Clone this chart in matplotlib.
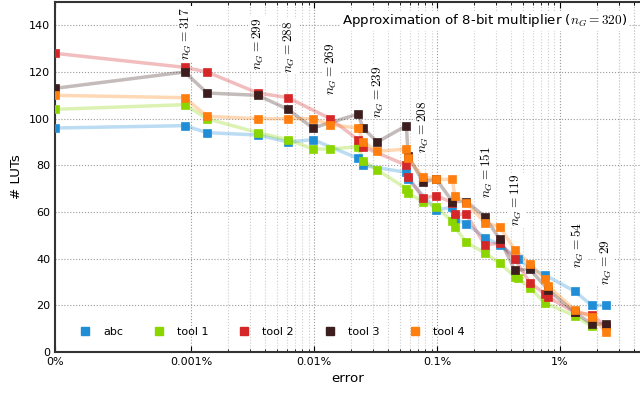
import numpy as np
import matplotlib.pyplot as plt
from matplotlib.lines import Line2D
from matplotlib.ticker import FixedLocator, NullFormatter

plt.rcParams['mathtext.fontset'] = 'cm'

# error in percent, number of LUTs
abc_x = [0, 0.00095, 0.00134, 0.00347, 0.0061, 0.00975, 0.0227, 0.0249, 0.0562, 0.058,
         0.0986, 0.133, 0.139, 0.173, 0.244, 0.324, 0.454, 0.569, 0.753, 1.32, 1.81, 2.37]
abc_y = [96, 97, 94, 93, 90, 91, 83, 80, 77, 74,
         61, 62, 57, 55, 49, 46, 40, 36, 33, 26, 20, 20]

tool1_x = [0, 0.00095, 0.00134, 0.00347, 0.0061, 0.00975, 0.0135, 0.0227, 0.0249, 0.0326,
           0.0562, 0.058, 0.0767, 0.0986, 0.133, 0.139, 0.173, 0.244, 0.324, 0.429, 0.454,
           0.569, 0.753, 1.32, 1.81]
tool1_y = [104, 106, 100, 94, 91, 87, 87, 88, 82, 78,
           70, 68, 64.5, 62, 56, 53.5, 47, 42.5, 38, 32.3, 31.6,
           27.6, 21, 15.5, 11]

tool2_x = [0, 0.00095, 0.00134, 0.00347, 0.0061, 0.0135, 0.0227, 0.0249, 0.0562, 0.058,
           0.0767, 0.0986, 0.133, 0.139, 0.173, 0.244, 0.324, 0.429, 0.569, 0.75, 0.8,
           1.32, 1.81, 2.37]
tool2_y = [128, 122, 120, 111, 109, 100, 91, 88, 80, 75,
           66, 67, 64, 59, 59, 46, 46.6, 39.8, 29.7, 25, 23.5,
           17, 16, 11]

tool3_x = [0, 0.00095, 0.00134, 0.00347, 0.0061, 0.00975, 0.0227, 0.0249, 0.0326, 0.0562,
           0.058, 0.0767, 0.0986, 0.133, 0.173, 0.244, 0.324, 0.429, 0.569, 0.802,
           1.32, 1.81, 2.37]
tool3_y = [113, 120, 111, 110, 104, 96, 102, 96, 90, 97,
           84, 73, 74, 64.5, 64.5, 58, 48.3, 35, 35.5, 26.6,
           17, 12, 12]

tool4_x = [0, 0.00095, 0.00134, 0.00347, 0.0061, 0.00975, 0.0135, 0.0227, 0.0249, 0.0326,
           0.0562, 0.058, 0.0767, 0.0986, 0.133, 0.139, 0.173, 0.244, 0.324, 0.429,
           0.569, 0.753, 0.8, 1.32, 1.81, 2.37]
tool4_y = [110, 109, 101, 100, 100, 100, 97.4, 96, 90, 86,
           87, 83, 75, 74, 74, 67, 64, 55.5, 53.5, 43.8,
           37.8, 31.2, 28.3, 18, 15, 8.7]

names = ['abc', 'tool 1', 'tool 2', 'tool 3', 'tool 4']
colors = ['#1f8ed6', '#8cd600', '#d62728', '#3c1e1e', '#ff7f0e']

ng_vals = [317, 299, 288, 269, 239, 208, 151, 119, 54, 29]
ng_x = [0.000964, 0.00352, 0.0063, 0.0138, 0.0334, 0.0778, 0.252, 0.443, 1.40, 2.37]
ng_y = [125, 121, 119.7, 110.3, 100.4, 85.4, 66, 53.8, 36, 28.8]

fig = plt.figure(figsize=(6.4, 3.95), dpi=100)
ax = fig.add_axes([55/640, 43/395, 585/640, 350/395])

series = [(abc_x, abc_y), (tool1_x, tool1_y), (tool2_x, tool2_y),
          (tool3_x, tool3_y), (tool4_x, tool4_y)]
for (x, y), c in zip(series, colors):
    ax.plot(x, y, '-', color=c, alpha=0.3, lw=2.5, zorder=3)
    ax.plot(x, y, 's', color=c, ms=5.5, mec=c, mew=0.5, zorder=4)

ax.set_xscale('symlog', linthresh=0.001, linscale=1.0)
ax.set_xlim(0, 4.48)
ax.set_ylim(0, 150)

ax.set_xticks([0, 0.001, 0.01, 0.1, 1])
ax.set_xticklabels(['0%', '0.001%', '0.01%', '0.1%', '1%'])
minors = [m * 10.0**k for k in range(-3, 1) for m in range(2, 10)] + [2, 3, 4]
ax.xaxis.set_minor_locator(FixedLocator(minors))
ax.xaxis.set_minor_formatter(NullFormatter())
ax.set_yticks(np.arange(0, 141, 20))

ax.grid(True, which='major', axis='both', ls=':', color='#999999', lw=0.8)
ax.grid(True, which='minor', axis='x', ls=':', color='#cccccc', lw=0.8)
ax.set_axisbelow(True)

ax.tick_params(axis='x', which='both', direction='in', top=True, labelsize=8)
ax.tick_params(axis='x', which='major', length=4)
ax.tick_params(axis='x', which='minor', length=2.5)
ax.tick_params(axis='y', direction='in', length=0, labelsize=8)
ax.spines['right'].set_visible(False)
for s in ['left', 'bottom', 'top']:
    ax.spines[s].set_color('#333333')
    ax.spines[s].set_linewidth(1.5)

ax.set_xlabel('error', fontsize=9.6)
ax.set_ylabel('# LUTs', fontsize=9.6)

for v, x, y in zip(ng_vals, ng_x, ng_y):
    ax.text(x, y, r'$n_G = %d$' % v, rotation=90, ha='center', va='bottom',
            fontsize=9.6, zorder=5,
            bbox=dict(facecolor='white', edgecolor='none', pad=1))

ax.text(0.979, 0.946, r'Approximation of 8-bit multiplier ($n_G = 320$)',
        transform=ax.transAxes, ha='right', va='center', fontsize=9.6, zorder=5,
        bbox=dict(facecolor='white', edgecolor='none', pad=1))

handles = [Line2D([], [], ls='none', marker='s', color=c, ms=5.5) for c in colors]
ax.legend(handles, names, loc='lower left', bbox_to_anchor=(0.042, 0.043),
          ncol=5, frameon=False, fontsize=8, handlelength=1, handletextpad=1.1,
          columnspacing=2.75, borderpad=0, borderaxespad=0)

fig.savefig('out.png', dpi=100)
